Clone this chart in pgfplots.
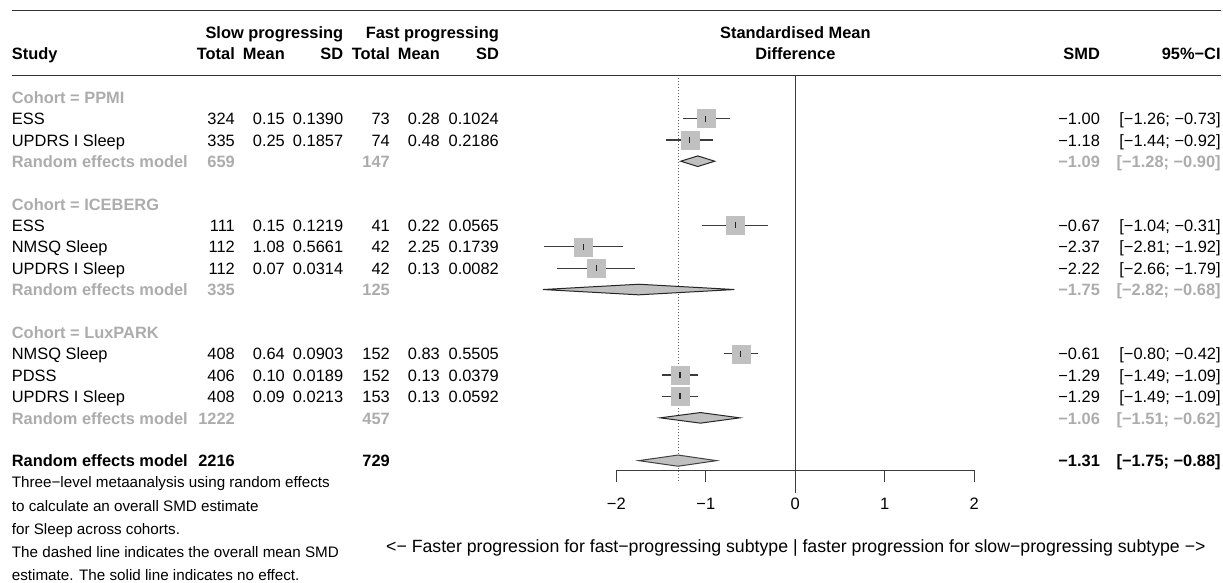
\documentclass[border=0pt]{standalone}
\usepackage{pgfplots}
\pgfplotsset{compat=1.18}
\usepackage{fontspec}
\setmainfont{Liberation Sans}
\definecolor{subgrey}{RGB}{172,172,172}
\definecolor{sqgrey}{RGB}{192,192,192}
\definecolor{linegrey}{RGB}{60,60,60}
\newcommand{\fs}{\fontsize{16.4}{19}\selectfont}
\newcommand{\fn}{\fontsize{15.2}{18}\selectfont}
\tikzset{
  tl/.style={anchor=base west, inner sep=0pt, font=\fs},
  tr/.style={anchor=base east, inner sep=0pt, font=\fs},
  tc/.style={anchor=base, inner sep=0pt, font=\fs},
  sub/.style={text=subgrey, font=\fs\bfseries},
  bd/.style={font=\fs\bfseries},
}
\newcommand{\srow}[8]{%
  \node[tl] at (11.7,#1) {#2};
  \node[tr] at (235,#1) {#3};
  \node[tr] at (285,#1) {#4};
  \node[tr] at (343.3,#1) {#5};
  \node[tr] at (390,#1) {#6};
  \node[tr] at (440,#1) {#7};
  \node[tr] at (499,#1) {#8};}
\newcommand{\rrow}[4]{%
  \node[tr,#4] at (1100,#1) {#2};
  \node[tr,#4] at (1220.7,#1) {#3};}
\begin{document}
\begin{tikzpicture}
\begin{axis}[
  scale only axis, width=1223pt, height=582pt,
  xmin=-8.8860, xmax=4.7788, ymin=0, ymax=582, y dir=reverse,
  axis lines=none, clip=false,
]
% reference lines
\addplot[linegrey, line width=1pt] coordinates {(0,75.3) (0,493)};
\addplot[black!60, dotted, line width=1pt] coordinates {(-1.31,75.3) (-1.31,483)};
% confidence intervals
\addplot[linegrey, line width=1.2pt, unbounded coords=jump] coordinates {
  (-1.26,118.5) (-0.73,118.5) (nan,nan)
  (-1.44,139.9) (-0.92,139.9) (nan,nan)
  (-1.04,225.4) (-0.31,225.4) (nan,nan)
  (-2.81,246.8) (-1.92,246.8) (nan,nan)
  (-2.66,268.1) (-1.79,268.1) (nan,nan)
  (-0.80,353.7) (-0.42,353.7) (nan,nan)
  (-1.49,375.0) (-1.09,375.0) (nan,nan)
  (-1.49,396.4) (-1.09,396.4)
};
% squares
\addplot[only marks, mark=square*, mark size=9pt, mark options={fill=sqgrey, draw=sqgrey}] coordinates {
  (-1.00,118.5) (-1.18,139.9)
  (-0.67,225.4) (-2.37,246.8) (-2.22,268.1)
  (-0.61,353.7) (-1.29,375.0) (-1.29,396.4)
};
% estimate ticks
\addplot[only marks, mark=|, mark size=3pt, mark options={black!85, line width=1.3pt}] coordinates {
  (-1.00,118.5) (-1.18,139.9)
  (-0.67,225.4) (-2.37,246.8) (-2.22,268.1)
  (-0.61,353.7) (-1.29,375.0) (-1.29,396.4)
};
% diamonds
\addplot[fill=sqgrey, draw=black!85, line width=1pt] coordinates {(-1.28,161.2) (-1.09,155.9) (-0.90,161.2) (-1.09,166.5)} --cycle;
\addplot[fill=sqgrey, draw=black!85, line width=1pt] coordinates {(-2.82,289.5) (-1.75,284.2) (-0.68,289.5) (-1.75,294.8)} --cycle;
\addplot[fill=sqgrey, draw=black!85, line width=1pt] coordinates {(-1.51,417.8) (-1.06,412.5) (-0.62,417.8) (-1.06,423.1)} --cycle;
\addplot[fill=sqgrey, draw=black!75, line width=1pt] coordinates {(-1.75,460.6) (-1.31,455.0) (-0.88,460.6) (-1.31,466.2)} --cycle;
% x axis
\draw[linegrey, line width=1pt] (axis cs:-2,470.3) -- (axis cs:2,470.3);
\draw[linegrey, line width=1pt] (axis cs:-2,470.3) -- (axis cs:-2,481.7);
\draw[linegrey, line width=1pt] (axis cs:-1,470.3) -- (axis cs:-1,481.7);
\draw[linegrey, line width=1pt] (axis cs:0,470.3) -- (axis cs:0,481.7);
\draw[linegrey, line width=1pt] (axis cs:1,470.3) -- (axis cs:1,481.7);
\draw[linegrey, line width=1pt] (axis cs:2,470.3) -- (axis cs:2,481.7);
\node[anchor=base, inner sep=0pt, font=\fontsize{16.5}{19}\selectfont] at (axis cs:-2,509.3) {−2};
\node[anchor=base, inner sep=0pt, font=\fontsize{16.5}{19}\selectfont] at (axis cs:-1,509.3) {−1};
\node[anchor=base, inner sep=0pt, font=\fontsize{16.5}{19}\selectfont] at (axis cs:0,509.3) {0};
\node[anchor=base, inner sep=0pt, font=\fontsize{16.5}{19}\selectfont] at (axis cs:1,509.3) {1};
\node[anchor=base, inner sep=0pt, font=\fontsize{16.5}{19}\selectfont] at (axis cs:2,509.3) {2};
\end{axis}
\begin{scope}[shift={(current axis.north west)}, x=1pt, y=-1pt]
% rules
\draw[black!80, line width=1pt] (11.7,11) -- (1221,11);
\draw[black!80, line width=1pt] (11.7,75.3) -- (1221,75.3);
% header
\node[tr,bd] at (343.3,38.8) {Slow progressing};
\node[tr,bd] at (499,38.8) {Fast progressing};
\node[tc,bd] at (795.3,38.8) {Standardised Mean};
\node[tl,bd] at (11.7,59.8) {Study};
\node[tr,bd] at (235,59.8) {Total};
\node[tr,bd] at (285,59.8) {Mean};
\node[tr,bd] at (343.3,59.8) {SD};
\node[tr,bd] at (390,59.8) {Total};
\node[tr,bd] at (440,59.8) {Mean};
\node[tr,bd] at (499,59.8) {SD};
\node[tc,bd] at (795.3,59.8) {Difference};
\node[tr,bd] at (1100,59.8) {SMD};
\node[tr,bd] at (1220.7,59.8) {95\%−CI};
% PPMI
\node[tl,sub] at (11.7,103.3) {Cohort = PPMI};
\srow{124.68}{ESS}{324}{0.15}{0.1390}{73}{0.28}{0.1024}
\rrow{124.68}{−1.00}{[−1.26; −0.73]}{}
\srow{146.06}{UPDRS I Sleep}{335}{0.25}{0.1857}{74}{0.48}{0.2186}
\rrow{146.06}{−1.18}{[−1.44; −0.92]}{}
\node[tl,sub] at (11.7,167.44) {Random effects model};
\node[tr,sub] at (235,167.44) {659};
\node[tr,sub] at (390,167.44) {147};
\rrow{167.44}{−1.09}{[−1.28; −0.90]}{sub}
% ICEBERG
\node[tl,sub] at (11.7,210.2) {Cohort = ICEBERG};
\srow{231.58}{ESS}{111}{0.15}{0.1219}{41}{0.22}{0.0565}
\rrow{231.58}{−0.67}{[−1.04; −0.31]}{}
\srow{252.96}{NMSQ Sleep}{112}{1.08}{0.5661}{42}{2.25}{0.1739}
\rrow{252.96}{−2.37}{[−2.81; −1.92]}{}
\srow{274.34}{UPDRS I Sleep}{112}{0.07}{0.0314}{42}{0.13}{0.0082}
\rrow{274.34}{−2.22}{[−2.66; −1.79]}{}
\node[tl,sub] at (11.7,295.72) {Random effects model};
\node[tr,sub] at (235,295.72) {335};
\node[tr,sub] at (390,295.72) {125};
\rrow{295.72}{−1.75}{[−2.82; −0.68]}{sub}
% LuxPARK
\node[tl,sub] at (11.7,338.48) {Cohort = LuxPARK};
\srow{359.86}{NMSQ Sleep}{408}{0.64}{0.0903}{152}{0.83}{0.5505}
\rrow{359.86}{−0.61}{[−0.80; −0.42]}{}
\srow{381.24}{PDSS}{406}{0.10}{0.0189}{152}{0.13}{0.0379}
\rrow{381.24}{−1.29}{[−1.49; −1.09]}{}
\srow{402.62}{UPDRS I Sleep}{408}{0.09}{0.0213}{153}{0.13}{0.0592}
\rrow{402.62}{−1.29}{[−1.49; −1.09]}{}
\node[tl,sub] at (11.7,424.0) {Random effects model};
\node[tr,sub] at (235,424.0) {1222};
\node[tr,sub] at (390,424.0) {457};
\rrow{424.0}{−1.06}{[−1.51; −0.62]}{sub}
% overall
\node[tl,bd] at (11.7,466.76) {Random effects model};
\node[tr,bd] at (235,466.76) {2216};
\node[tr,bd] at (390,466.76) {729};
\rrow{466.76}{−1.31}{[−1.75; −0.88]}{bd}
% footnote
\node[anchor=base west, inner sep=0pt, font=\fn] at (11.7,487.7) {Three−level metaanalysis using random effects};
\node[anchor=base west, inner sep=0pt, font=\fn] at (11.7,511.0) {to calculate an overall SMD estimate};
\node[anchor=base west, inner sep=0pt, font=\fn] at (11.7,534.3) {for Sleep across cohorts.};
\node[anchor=base west, inner sep=0pt, font=\fn] at (11.7,557.6) {The dashed line indicates the overall mean SMD};
\node[anchor=base west, inner sep=0pt, font=\fn] at (11.7,580.9) {estimate. The solid line indicates no effect.};
% x label
\node[anchor=base, inner sep=0pt, font=\fontsize{17.7}{21}\selectfont] at (795.8,552) {<− Faster progression for fast−progressing subtype | faster progression for slow−progressing subtype −>};
\end{scope}
\pgfresetboundingbox
\path (current axis.south west) rectangle (current axis.north east);
\end{tikzpicture}
\end{document}
